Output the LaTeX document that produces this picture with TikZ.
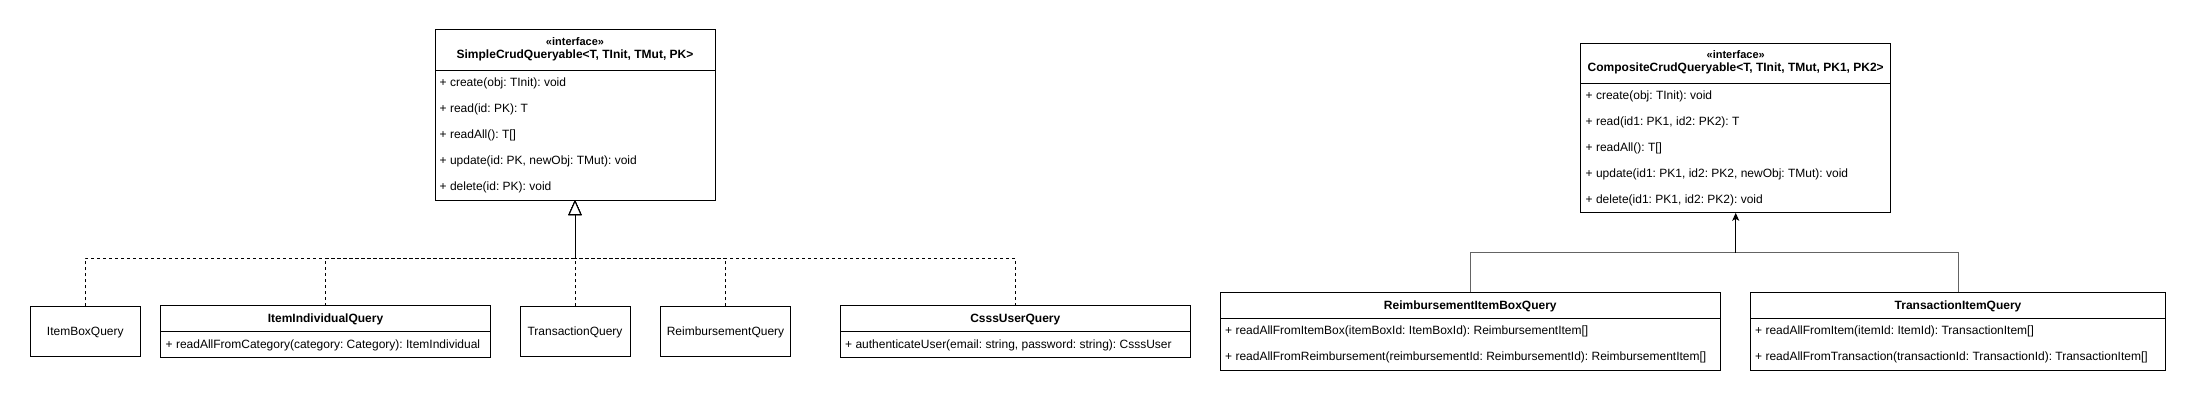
\documentclass[tikz,border=0pt]{standalone}
\usepackage{fontspec}
\setmainfont{Liberation Sans}
\usetikzlibrary{arrows.meta}
\definecolor{edgegray}{RGB}{100,100,100}
\begin{document}
\frenchspacing
\begin{tikzpicture}[x=1pt,y=-1pt,
  box/.style={draw, line width=1pt, anchor=north west, inner sep=0pt, outer sep=0pt},
  ttl/.style={font=\fontsize{12}{14}\selectfont\bfseries, anchor=base, inner sep=0pt},
  stereo/.style={font=\fontsize{11}{13}\selectfont\bfseries, anchor=base, inner sep=0pt},
  attr/.style={font=\fontsize{12}{14}\selectfont, anchor=base west, inner sep=0pt},
  plain/.style={font=\fontsize{12}{14}\selectfont, anchor=base, inner sep=0pt},
  sep/.style={line width=1pt},
  realize/.style={line width=1pt, dash pattern=on 3pt off 3pt, -{Triangle[open, length=15pt, width=13pt, fill=white]}},
  branch/.style={line width=1pt, draw=edgegray},
  assoc/.style={line width=1pt, -{Stealth[length=8pt, width=7pt, inset=2pt]}}
]
\useasboundingbox (0,0) rectangle (2196,404);
\fill[white] (0,0) rectangle (2196,404);

% ---------- SimpleCrudQueryable ----------
\node[box, minimum width=280pt, minimum height=170pt] (scq) at (435,30) {};
\draw[sep] (435,70.5) -- (715,70.5);
\node[stereo] (scqs) at (575,46) {«interface»};
\node[ttl] (scqt) at (575,58.5) {SimpleCrudQueryable<T, TInit, TMut, PK>};
\node[attr] (scq1) at (439.5,86.5) {+ create(obj: TInit): void};
\node[attr] (scq2) at (439.5,112.5) {+ read(id: PK): T};
\node[attr] (scq3) at (439.5,138.5) {+ readAll(): T[]};
\node[attr] (scq4) at (439.5,164.5) {+ update(id: PK, newObj: TMut): void};
\node[attr] (scq5) at (439.5,190.5) {+ delete(id: PK): void};

% ---------- CompositeCrudQueryable ----------
\node[box, minimum width=310pt, minimum height=169.5pt] (ccq) at (1580.7,43.3) {};
\draw[sep] (1580.7,83.5) -- (1890.7,83.5);
\node[stereo] (ccqs) at (1735.7,59) {«interface»};
\node[ttl] (ccqt) at (1735.7,71.5) {CompositeCrudQueryable<T, TInit, TMut, PK1, PK2>};
\node[attr] (ccq1) at (1585.5,99.5) {+ create(obj: TInit): void};
\node[attr] (ccq2) at (1585.5,125.5) {+ read(id1: PK1, id2: PK2): T};
\node[attr] (ccq3) at (1585.5,151.5) {+ readAll(): T[]};
\node[attr] (ccq4) at (1585.5,177.5) {+ update(id1: PK1, id2: PK2, newObj: TMut): void};
\node[attr] (ccq5) at (1585.5,203.5) {+ delete(id1: PK1, id2: PK2): void};

% ---------- left children ----------
\node[box, minimum width=110pt, minimum height=50pt] (ibq) at (30.3,306.3) {};
\node[plain] (ibqt) at (85.3,335) {ItemBoxQuery};

\node[box, minimum width=329.6pt, minimum height=51.5pt] (iiq) at (160.7,305.5) {};
\draw[sep] (160.7,331) -- (490.3,331);
\node[ttl] (iiqt) at (325.5,322.5) {ItemIndividualQuery};
\node[attr] (iiq1) at (165.5,348) {+ readAllFromCategory(category: Category): ItemIndividual};

\node[box, minimum width=110pt, minimum height=50pt] (tq) at (520,306.3) {};
\node[plain] (tqt) at (575,335) {TransactionQuery};

\node[box, minimum width=129.6pt, minimum height=50pt] (rq) at (660.7,306.3) {};
\node[plain] (rqt) at (725.5,335) {ReimbursementQuery};

\node[box, minimum width=350pt, minimum height=51.5pt] (cuq) at (840.3,305.5) {};
\draw[sep] (840.3,331) -- (1190.3,331);
\node[ttl] (cuqt) at (1015.3,322.5) {CsssUserQuery};
\node[attr] (cuq1) at (845,348) {+ authenticateUser(email: string, password: string): CsssUser};

% ---------- right children ----------
\node[box, minimum width=500pt, minimum height=78pt] (ribq) at (1220.3,292.3) {};
\draw[sep] (1220.3,318.3) -- (1720.3,318.3);
\node[ttl] (ribqt) at (1470.3,309.5) {ReimbursementItemBoxQuery};
\node[attr] (ribq1) at (1225,334.5) {+ readAllFromItemBox(itemBoxId: ItemBoxId): ReimbursementItem[]};
\node[attr] (ribq2) at (1225,360.5) {+ readAllFromReimbursement(reimbursementId: ReimbursementId): ReimbursementItem[]};

\node[box, minimum width=415.4pt, minimum height=78pt] (tiq) at (1750.3,292.3) {};
\draw[sep] (1750.3,318.3) -- (2165.7,318.3);
\node[ttl] (tiqt) at (1958,309.5) {TransactionItemQuery};
\node[attr] (tiq1) at (1755,334.5) {+ readAllFromItem(itemId: ItemId): TransactionItem[]};
\node[attr] (tiq2) at (1755,360.5) {+ readAllFromTransaction(transactionId: TransactionId): TransactionItem[]};

% ---------- connectors ----------
\coordinate (jL) at (575,258.3);
\foreach \c in {ibq,iiq,tq,rq,cuq}{
  \draw[realize] (\c.north) |- (jL) -- (scq.south);
}

\coordinate (jR) at (1735.7,252.7);
\draw[branch] (ribq.north) |- (jR);
\draw[branch] (tiq.north) |- (jR);
\draw[assoc] (jR) -- (ccq.south);
\end{tikzpicture}
\end{document}
